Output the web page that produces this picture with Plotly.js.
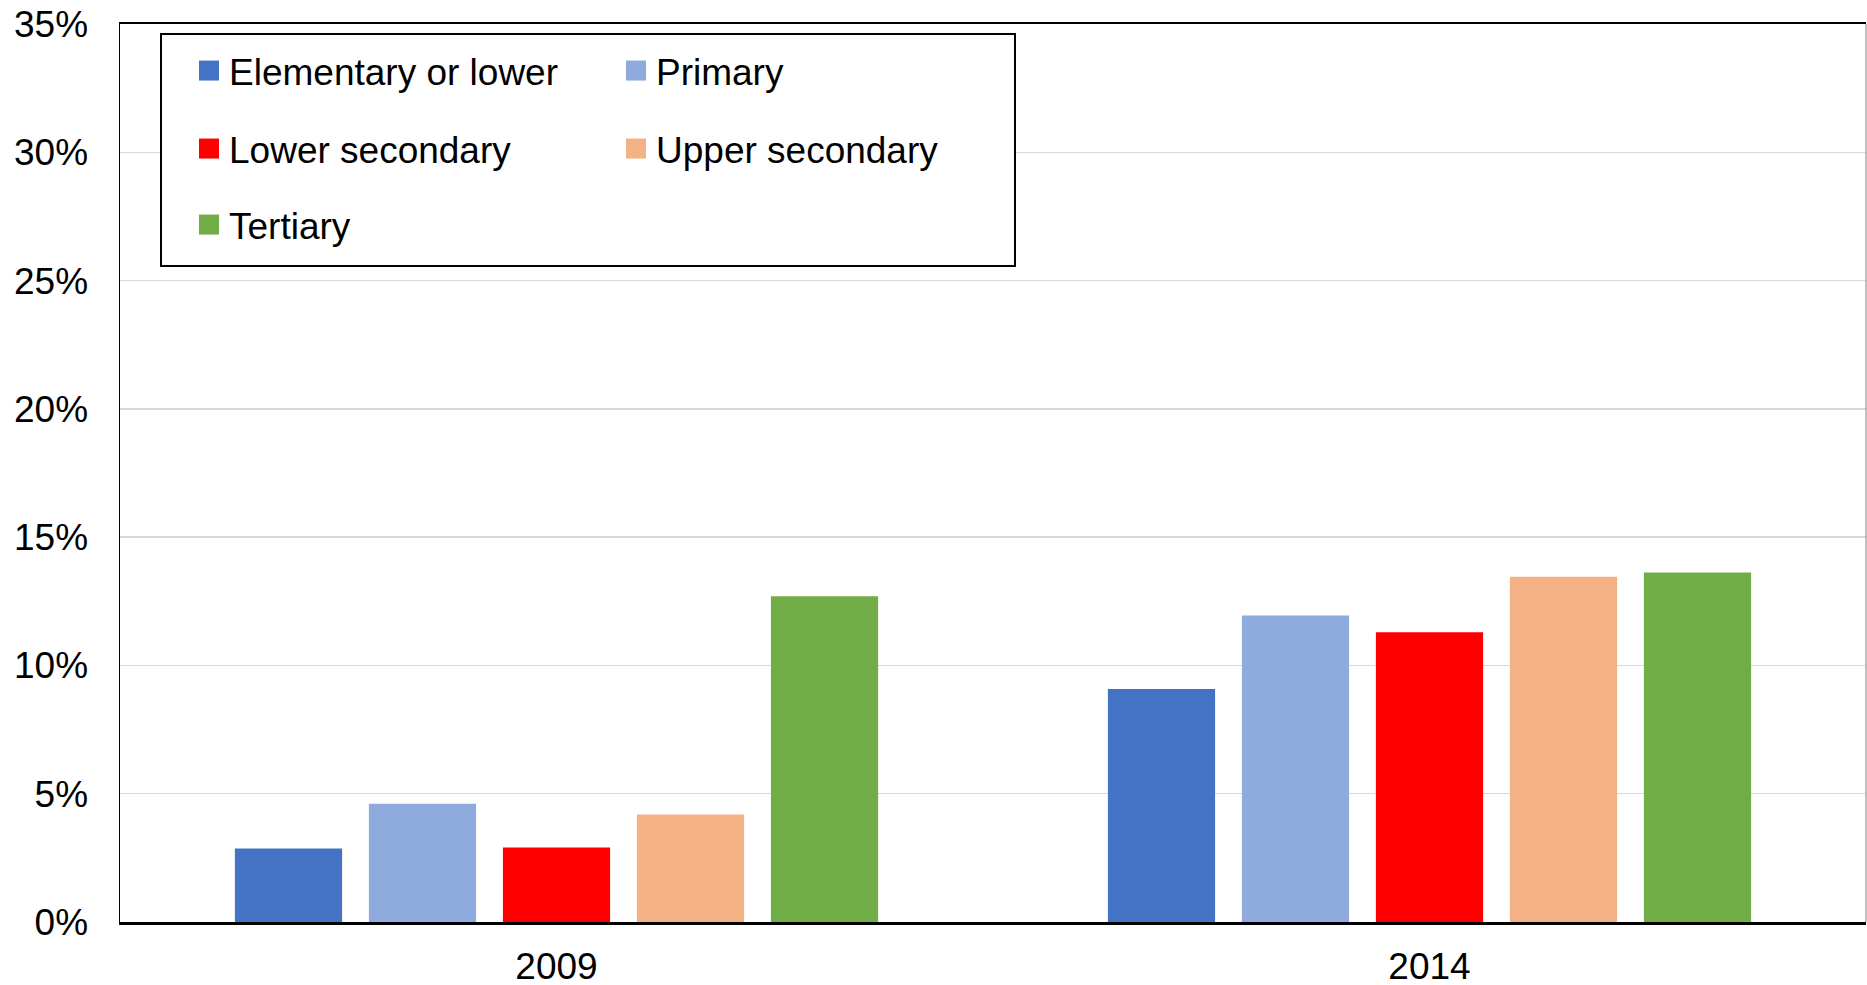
<!DOCTYPE html>
<html>
<head>
<meta charset="utf-8">
<script src="https://cdn.plot.ly/plotly-3.0.1.min.js"></script>
<style>html,body{margin:0;padding:0;background:#fff;}#chart{width:1867px;height:985px;}</style>
</head>
<body>
<div id="chart"></div>
<script>
// Data
const years = ['2009', '2014'];
const seriesNames = ['Elementary or lower', 'Primary', 'Lower secondary', 'Upper secondary', 'Tertiary'];
const elementaryOrLower = [2.86, 9.08];
const primary = [4.61, 11.95];
const lowerSecondary = [2.90, 11.29];
const upperSecondary = [4.19, 13.46];
const tertiary = [12.70, 13.62];
const yTicks = [0, 5, 10, 15, 20, 25, 30, 35];

const seriesValues = [elementaryOrLower, primary, lowerSecondary, upperSecondary, tertiary];
const colors = ['#4472C4', '#8FAADC', '#FF0000', '#F4B183', '#70AD47'];
const legendIds = ['legend', 'legend', 'legend2', 'legend2', 'legend3'];

const FONT = 'Liberation Sans, Arial, sans-serif';

const traces = seriesNames.map((name, i) => ({
  type: 'bar',
  name: name,
  x: years,
  y: seriesValues[i],
  marker: {color: colors[i], line: {width: 0}},
  legend: legendIds[i],
  hoverinfo: 'name+y'
}));

// pixel geometry helpers (plot area: 120..1866 x, 24..922 y)
const L = 120, R = 1, T = 24, B = 63;
const W = 1867 - L - R, H = 985 - T - B;
const px = v => (v - L) / W;
const py = v => 1 - (v - T) / H;

function legendCfg(yc) {
  return {
    orientation: 'h',
    x: px(189), xanchor: 'left',
    y: py(yc), yanchor: 'middle',
    entrywidth: 382, entrywidthmode: 'pixels',
    bgcolor: 'rgba(0,0,0,0)', borderwidth: 0,
    font: {family: FONT, size: 37, color: '#000'},
    traceorder: 'normal'
  };
}

const layout = {
  width: 1867, height: 985,
  margin: {l: L, r: R, t: T, b: B, pad: 0},
  paper_bgcolor: '#fff', plot_bgcolor: '#fff',
  font: {family: FONT, size: 37, color: '#000'},
  barmode: 'group',
  bargap: 0.2325,
  bargroupgap: 0.2,
  showlegend: true,
  legend: legendCfg(71),
  legend2: legendCfg(149),
  legend3: legendCfg(225),
  xaxis: {
    type: 'category',
    showgrid: false,
    zeroline: false,
    showline: true, linecolor: '#000', linewidth: 2.5, mirror: true,
    ticks: '',
    tickfont: {family: FONT, size: 37, color: '#000'},
    ticklabelstandoff: 10,
    fixedrange: true
  },
  yaxis: {
    range: [0, 35],
    tickvals: yTicks,
    ticktext: yTicks.map(v => v + '%'),
    showgrid: true, gridcolor: '#d9d9d9', gridwidth: 1.5,
    zeroline: false,
    showline: true, linecolor: '#000', linewidth: 1.5,
    ticks: '',
    tickfont: {family: FONT, size: 37, color: '#000'},
    ticklabelstandoff: 23,
    fixedrange: true
  },
  shapes: [
    {type: 'rect', xref: 'paper', yref: 'paper', layer: 'above',
     x0: px(161), x1: px(1015), y0: py(266), y1: py(34),
     line: {color: '#000', width: 2}, fillcolor: '#fff'},
    {type: 'line', xref: 'paper', yref: 'paper', layer: 'above',
     x0: 1, x1: 1, y0: 0, y1: 1,
     line: {color: '#808080', width: 1}}
  ]
};

Plotly.newPlot('chart', traces, layout, {displayModeBar: false, staticPlot: true}).then(gd => {
  gd.querySelectorAll('g.legendpoints path').forEach(p => p.setAttribute('d', 'M10,10H-10V-10H10Z'));
});
</script>
</body>
</html>
